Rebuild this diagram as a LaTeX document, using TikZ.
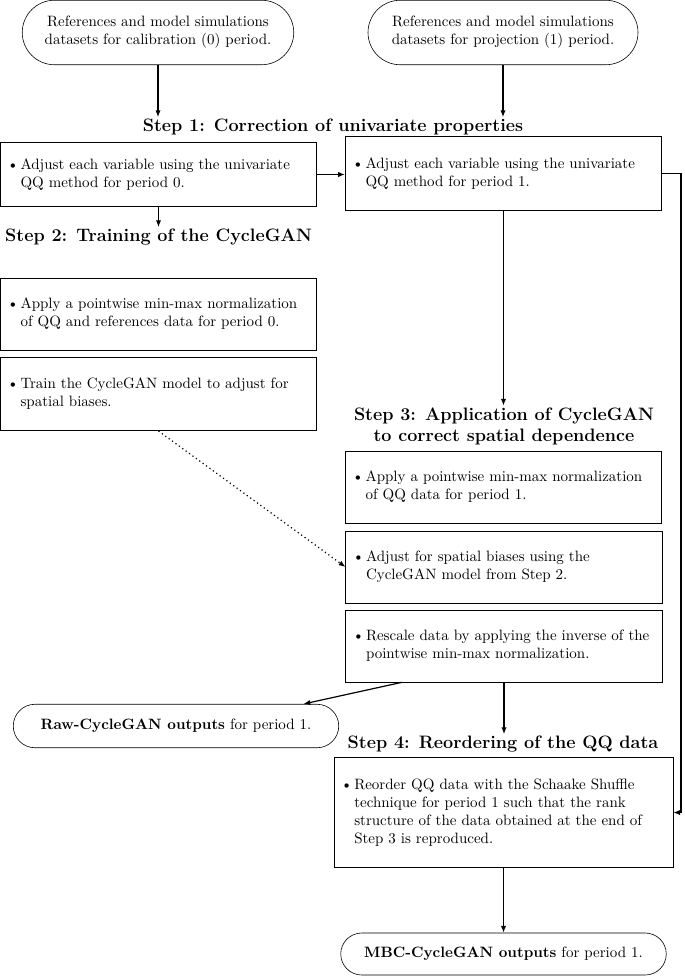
\documentclass[tikz,border=0pt]{standalone}
\usepackage{tikz}
\usetikzlibrary{arrows.meta,shapes.misc,positioning}
\tikzstyle{term} = [rounded rectangle, draw=black, align=center, inner sep=2pt]
\tikzstyle{blk} = [rectangle, draw=black, align=left, inner xsep=4.5pt, inner ysep=0pt]
\tikzstyle{ttl} = [font=\large\bfseries, align=center, inner sep=1pt]
\tikzstyle{lnk} = [-{Latex[length=4.5pt,width=3.5pt]}, thick]
\newcommand{\itm}[1]{\makebox[9pt][l]{\textbullet}\begin{tabular}[t]{@{}l@{}}#1\end{tabular}}

\begin{document}
\begin{tikzpicture}
		[
			x=0.6667pt, y=0.6667pt,
		]
		\useasboundingbox (0,0) rectangle (685,-976);

		\node[term, minimum width=185pt, minimum height=43pt] (t0) at (158,-32.5) {References and model simulations\\ datasets for calibration (0) period.};
		\node[term, minimum width=184pt, minimum height=43pt] (t1) at (503,-32.5) {References and model simulations\\ datasets for projection (1) period.};

		\node[ttl] (s1) at (333,-127) {Step 1: Correction of univariate properties};
		\node[blk, text width=202pt, minimum height=43pt] (b1) at (158.5,-174.5) {\itm{Adjust each variable using the univariate\\ QQ method for period 0.}};
		\node[blk, text width=202pt, minimum height=49pt] (b2) at (503.5,-173.5) {\itm{Adjust each variable using the univariate\\ QQ method for period 1.}};

		\node[ttl] (s2) at (158.5,-237) {Step 2: Training of the CycleGAN};
		\node[blk, text width=202pt, minimum height=48pt] (b3) at (158.5,-314) {\itm{Apply a pointwise min-max normalization\\ of QQ and references data for period 0.}};
		\node[blk, text width=202pt, minimum height=49pt] (b4) at (158.5,-394) {\itm{Train the CycleGAN model to adjust for\\ spatial biases.}};

		\node[ttl] (s3) at (504,-426) {Step 3: Application of CycleGAN\\ to correct spatial dependence};
		\node[blk, text width=202pt, minimum height=48pt] (b5) at (503.5,-487) {\itm{Apply a pointwise min-max normalization\\ of QQ data for period 1.}};
		\node[blk, text width=202pt, minimum height=48pt] (b6) at (504,-567) {\itm{Adjust for spatial biases using the\\ CycleGAN model from Step 2.}};
		\node[blk, text width=202pt, minimum height=48pt] (b7) at (504,-646) {\itm{Rescale data by applying the inverse of the\\ pointwise min-max normalization.}};

		\node[term, minimum width=221pt, minimum height=29pt] (raw) at (176,-726) {\textbf{Raw-CycleGAN outputs} for period 1.};

		\node[ttl] (s4) at (503,-744) {Step 4: Reordering of the QQ data};
		\node[blk, text width=217pt, minimum height=73pt] (b8) at (503.5,-812.5) {\itm{Reorder QQ data with the Schaake Shuffle\\ technique for period 1 such that the rank\\ structure of the data obtained at the end of\\ Step 3 is reproduced.}};
		\node[term, minimum width=221pt, minimum height=28pt] (mbc) at (503.5,-954) {\textbf{MBC-CycleGAN outputs} for period 1.};

		\draw[lnk] (t0.south) -- (t0.south |- s1.north);
		\draw[lnk] (t1.south) -- (t1.south |- s1.north);
		\draw[lnk] (b1.east) -- (b1.east -| b2.west);
		\draw[lnk] (b1.south) -- (s2.north);
		\draw[lnk] (b2.south) -- (b2.south |- s3.north);
		\draw[lnk, dotted] (b4.south) -- (b6.west);
		\draw[lnk] ([xshift=-68pt]b7.south) -- ([xshift=85pt]raw.north);
		\draw[lnk] (b7.south) -- (b7.south |- s4.north);
		\draw[lnk] (b2.east) -- ++(19,0) |- (b8.east);
		\draw[lnk] (b8.south) -- (mbc.north);
	\end{tikzpicture}
\end{document}
